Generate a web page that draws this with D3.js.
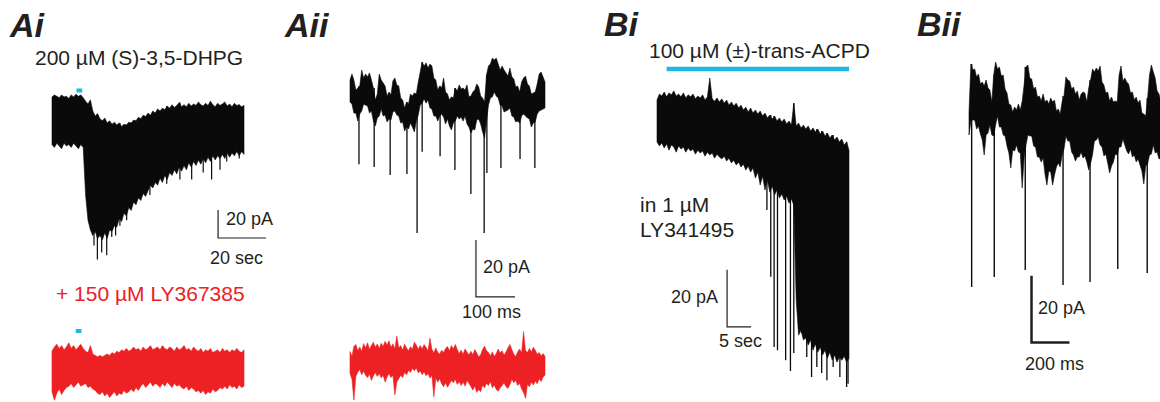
<!DOCTYPE html>
<html>
<head>
<meta charset="utf-8">
<script src="https://cdn.jsdelivr.net/npm/d3@7/dist/d3.min.js"></script>
<style>
  html, body { margin: 0; padding: 0; background: #fff; }
  svg { display: block; }
  text { font-family: "Liberation Sans", Arial, Helvetica, sans-serif; fill: #231f20; }
  .panel { font-weight: bold; font-style: italic; font-size: 34px; }
  .cond { font-size: 21px; }
  .bar { font-size: 18px; }
</style>
</head>
<body>
<svg id="fig" width="1160" height="402"></svg>
<script>
// ---------- Ai : (S)-3,5-DHPG, 1-s bins, current envelope in pA ----------
const aiHi = [0, 1.5, 0.5, -0.5, 1.5, 0, 0.5, -1, 1.5, 0, 2, 0.5, 1.5, -0.5,
  -3, -5, -2, -10, -13.5, -12, -15.5, -17, -15, -18.5, -17, -19.5, -18, -20, -18.5, -21,
  -19.5, -20, -18, -18.5, -16.5, -17, -14.5, -15.5, -13, -14,
  -11.5, -13, -10, -11.5, -8.5, -10, -8, -9, -6.5, -8, -5.5, -7.5, -6, -4, -7, -5.5, -7, -4.5,
  -6.5, -5, -6, -3.5, -5.5, -6.5, -4.5, -6, -3, -5.5, -7, -4.5, -6, -5, -3.5, -6.5, -5, -7,
  -4.5, -6, -5.5, -7, -6];
const aiLo = [-34, -36, -33, -35, -37, -33, -35, -34, -36, -33, -35, -37, -34, -36,
  -70, -88, -95, -99, -96, -101, -99, -102, -97, -101, -95, -96, -92, -93, -87, -89,
  -83, -85, -79, -81, -75, -77, -72, -74, -69, -71,
  -67, -63, -65, -61, -63, -58, -61, -56, -59, -54, -56, -52, -55, -50, -53, -49, -52, -47,
  -50, -46, -49, -45, -48, -44, -47, -43, -46, -42, -45, -42, -44, -41, -44, -40, -43, -40,
  -42, -39, -42, -39, -41];
// individual inward events [time s, peak pA]
const aiEvents = [[17.5, -106], [18.9, -116], [20.7, -111], [22.8, -113], [24.9, -100],
  [26.5, -99], [28.3, -92], [31.1, -88], [40.8, -70], [47.8, -62], [53.3, -59], [58.2, -59],
  [63, -54], [66.5, -59], [70, -52], [72.8, -46], [78, -44]];
// same cell in LY367385, 1-s bins
const aiRedHi = [-3, 0, 2, -1, 1, -2, 0, 3, -1, 1, -2, 0, 2,
  -1, -3, -4, 1, -5, -6, -7, -6,
  -7, -6, -5, -6, -4, -5, -3, -4, -2, -3, -1, -3, -2, 0, -2,
  -1, -3, 0, -2, -1, 1, -2, -1, 0, -2, 1, -1, -2, 0, -1, -3, 0, -2, -1, 1, -2, -1, -3, 0, -2,
  -3, -1, -4, -2, -3, -1, -4, -3, -2, -4, -1, -3, -2, -4, -2, -3, -1, -3, -4, -2];
const aiRedLo = [-32, -38, -33, -30, -34, -31, -29,
  -28, -26, -29, -27, -25, -28, -27, -26, -29, -28, -30,
  -31, -33, -34, -32, -35, -33, -36, -34, -32, -35, -33, -34, -31, -33, -32, -30, -32, -29, -31,
  -28, -26, -29, -27, -25, -28, -26, -27, -29, -26, -28, -25, -27, -29, -26, -28, -27, -29, -30,
  -28, -31, -29, -30, -32, -31,
  -33, -31, -34, -32, -33, -30, -32, -31, -29, -30, -28, -30, -27, -29, -28, -30, -27, -29, -28];
const aiPuff = [10.2, 12.6];           // agonist application, s

// ---------- Aii : expanded sweep, 5-ms bins (pA) ----------
const aiiHi = [7.0, 9.1, 7.0, 3.5, 4.2, 4.9, 10.5, 7.7, 9.1, 8.1,
  9.5, 7.0, 4.2, 0, 2.1, 9.1, 7.0, 6.0, 4.9, 1.4,
  2.8, 1.8, 6.7, 7.7, 5.3, 4.9, 0.7, 0, -2.8, -0.7,
  -1.4, 2.1, 1.4, 2.5, 2.1, 6.3, 9.8, 13.3, 11.9, 13.0,
  11.2, 12.6, 11.9, 7.7, 7.0, 3.5, 4.9, 4.2, 7.7, 2.8,
  2.1, 0, 1.1, 0.7, 4.2, 3.2, 5.3, 3.9, 4.2, 3.5,
  5.3, 1.1, 1.4, 2.8, 3.5, 5.6, 4.6, 1.4, 0.7, -0.7,
  8.8, 11.9, 12.6, 14.7, 14.0, 14.7, 12.6, 10.5, 11.9, 10.5,
  9.5, 8.4, 11.2, 8.1, 7.4, 4.6, 4.9, 2.8, 6.3, 7.7,
  8.4, 5.6, 4.9, 2.1, 2.5, 2.8, 5.6, 9.1, 9.8, 8.1, 6.3];
const aiiLo = [-0.7, -1.4, -4.6, -4.6, -7.4, -4.9, -3.9, -1.4, -1.8, -2.1,
  -4.6, -3.9, -7.4, -9.1, -6.3, -5.6, -3.2, -5.6, -5.3, -7.7,
  -6.7, -7.0, -4.2, -3.9, -5.3, -5.6, -8.1, -7.7, -10.9, -9.5,
  -10.2, -8.1, -9.5, -11.2, -7.4, -5.3, -1.8, -1.1, 0.4, -1.1,
  0, -2.8, -3.2, -5.6, -5.6, -7.4, -5.6, -4.9, -6.0, -8.4,
  -6.7, -9.1, -10.5, -8.1, -7.4, -5.6, -6.7, -6.0, -7.4, -5.6,
  -8.4, -9.5, -11.6, -10.2, -10.5, -7.0, -6.7, -8.4, -11.2, -13.3,
  -7.7, -1.8, 0.7, 1.1, 2.8, 1.4, 0.7, -1.8, -2.1, -4.2,
  -3.9, -3.5, -2.8, -5.6, -6.0, -7.7, -7.4, -8.1, -5.6, -4.9,
  -5.6, -6.3, -6.7, -9.5, -8.1, -7.7, -4.9, -3.9, -3.5, -3.2, -2.8];
// sEPSCs [time ms, peak pA]
const aiiEvents = [[23, -22.5], [62, -23.5], [103, -26.3], [146, -26.0], [172, -46.7],
  [185, -18.2], [231, -19.7], [269, -24.6], [310, -33.0], [344, -46.7], [351, -25.6],
  [387, -23.9], [436, -20.7], [474, -23.9]];
const aiiRedHi = [4.7, 3.0, 6.5, 7.2, 5.0, 6.3, 4.8, 7.5, 6.0, 7.8,
  5.5, 6.8, 8.0, 6.2, 7.4, 5.8, 7.6, 6.5, 8.3, 7.0,
  8.5, 6.2, 7.4, 5.6, 10.2, 6.0, 6.8, 5.2, 7.3, 6.0,
  5.0, 6.4, 5.5, 8.0, 7.0, 5.5, 6.8, 5.6, 7.2, 6.2,
  5.0, 9.4, 5.5, 4.3, 6.0, 4.5, 3.8, 5.2, 4.4, 5.8,
  6.5, 5.0, 6.8, 5.6, 7.2, 5.4, 4.0, 5.2, 3.8, 5.6,
  4.6, 3.5, 4.8, 3.6, 5.4, 4.2, 2.8, 3.6, 5.5, 6.6,
  5.0, 4.4, 3.2, 4.6, 3.0, 4.0, 5.6, 4.2, 5.0, 3.4,
  4.6, 6.0, 7.2, 5.4, 3.8, 3.0, 4.6, 5.6, 4.2, 11.7,
  5.0, 4.4, 5.8, 4.6, 6.2, 5.2, 3.8, 4.4, 3.2, 4.0, 3.0];
const aiiRedLo = [-2.9, -5.0, -12.3, -4.0, -2.5, -1.6, -3.4, -2.2, -3.6, -4.4,
  -3.2, -5.4, -3.8, -2.6, -4.0, -3.0, -4.5, -3.6, -6.0, -4.2,
  -3.0, -4.4, -3.6, -10.5, -6.0, -4.8, -3.6, -4.4, -2.6, -3.4,
  -1.8, -2.6, -1.2, -2.0, -1.0, -2.8, -2.0, -3.4, -2.4, -3.8,
  -3.0, -4.6, -3.6, -11.1, -4.6, -6.0, -4.8, -6.6, -7.6, -6.2,
  -7.8, -6.6, -5.4, -6.2, -5.0, -6.8, -5.8, -7.2, -6.0, -7.4,
  -5.4, -6.4, -7.6, -8.8, -7.4, -9.6, -8.6, -9.4, -7.0, -8.0,
  -6.4, -7.2, -5.8, -8.0, -7.0, -8.6, -9.2, -8.0, -7.2, -6.2,
  -7.6, -8.2, -6.8, -5.0, -6.2, -5.4, -7.2, -6.4, -8.4, -9.6,
  -11.7, -6.8, -7.6, -6.0, -7.0, -5.6, -6.6, -4.8, -5.8, -4.2, -3.6];

// ---------- Bi : (±)-trans-ACPD in LY341495, 0.5-s bins (pA) ----------
const biHi = [0, 2.1, 1.4, 2.8, 1.1, 2.5, 1.8, 3.2, 1.4, 2.1,
  1.1, 2.5, 0.7, 1.8, 1.1, 2.1, 0.4, 1.4, 0.7, 1.8,
  0, 1.1, 7.7, 0.4, -0.4, 0.7, -0.7, 0.4, -1.1, 0,
  -1.8, -0.7, -2.1, -1.1, -2.8, -1.8, -3.5, -2.5, -4.2, -2.8,
  -4.6, -3.5, -4.9, -3.9, -5.6, -4.6, -6.3, -5.3, -6.7, -5.6,
  -7.4, -6.3, -7.7, -6.7, -8.4, -7.4, -8.8, -1.1, -9.1, -8.1,
  -9.8, -8.8, -10.2, -9.1, -10.9, -9.8, -11.2, -10.2, -11.9, -10.9,
  -12.6, -11.6, -13.3, -12.3, -14.0, -13.0, -14.7, -13.7, -15.8, -14.7, -17.6];
const biLo = [-14.7, -16.1, -15.1, -16.8, -15.4, -17.6, -15.8, -16.5, -18.3, -16.1,
  -17.2, -16.5, -18.3, -16.8, -17.9, -17.2, -19.0, -17.6, -18.6, -17.9,
  -19.7, -18.3, -19.3, -18.6, -20.4, -19.0, -20.0, -20.7, -19.7, -21.4,
  -20.4, -22.1, -21.1, -22.8, -21.8, -23.5, -22.5, -24.6, -23.2, -25.3,
  -23.9, -27.4, -25.3, -29.8, -26.7, -31.6, -28.1, -32.3, -30.2, -33.3,
  -31.6, -34.4, -33.0, -35.1, -33.7, -36.2, -34.7, -36.9, -70.2, -82.5,
  -80.7, -84.2, -83.5, -86.0, -84.2, -87.8, -85.6, -88.5, -86.7, -89.5,
  -87.8, -90.6, -88.5, -91.3, -89.5, -92.0, -90.2, -91.3, -89.9, -92.0, -90.6];
const biEvents = [[22.9, -38.6], [23.7, -62], [24.4, -86.7], [25.1, -87.8], [26.8, -91.3],
  [27.8, -95.1], [28.5, -88.8], [30.1, -81.8], [31.2, -90.2], [32.2, -97.2], [33.3, -93.7],
  [34.3, -95.8], [35.4, -98.3], [36.7, -93.7], [38.1, -97.2], [39.5, -100.7], [39.8, -99.6]];
const biApp = [2, 40];                 // agonist application, s

// ---------- Bii : expanded sweep, 10-ms bins (pA) ----------
const biiHi = [-3.6, 10.8, 9.0, 9.3, 6.9, 7.8, 4.8, 5.4, 4.2, 6.0,
  3.6, 3.0, -0.6, 7.5, 11.4, 9.3, 9.9, 7.2, 7.5, 3.3,
  2.1, -1.2, -1.5, -3.6, -2.1, -3.0, -1.2, -3.0, -0.3, 4.5,
  9.9, 10.5, 6.6, 6.3, 3.3, 3.9, 0.9, 1.2, -0.3, 1.8,
  -0.6, 0, -1.2, 0.6, -0.6, 0, -3.3, -2.7, -4.2, -0.6,
  1.2, 6.9, 6.0, 5.7, 3.3, 3.9, 1.8, 2.7, 0, 1.8,
  2.4, 2.1, -0.6, 3.6, 6.0, 9.3, 8.4, 9.6, 8.7, 10.2,
  5.4, 4.5, 2.1, 2.4, -0.3, 0.9, -0.6, -0.3, -0.6, 7.5,
  10.2, 5.7, 6.6, 5.4, 4.8, 2.1, 2.4, 0, 0.9, -0.9,
  0, -3.9, -4.2, -4.8, 0.6, 7.5, 10.5, 8.4, 6.6, 2.7, 1.8, -0.6];
const biiLo = [-10.5, -6.3, -6.0, -6.0, -8.7, -7.8, -10.2, -12.0, -16.5, -10.5,
  -9.9, -7.5, -10.5, -10.8, -7.5, -4.8, -8.1, -8.1, -10.5, -10.8,
  -13.8, -15.9, -20.4, -15.0, -15.3, -13.5, -15.6, -15.9, -26.4, -17.4,
  -13.5, -10.5, -10.8, -10.8, -13.8, -14.1, -17.1, -17.1, -18.6, -17.4,
  -22.2, -25.5, -21.3, -21.6, -25.5, -22.5, -20.1, -18.9, -20.1, -16.5,
  -14.7, -10.8, -12.3, -12.3, -15.6, -16.5, -18.3, -17.1, -17.1, -15.6,
  -17.4, -16.8, -18.6, -21.0, -18.9, -16.5, -12.3, -12.0, -11.1, -13.5,
  -14.1, -16.8, -16.2, -18.9, -21.9, -19.8, -18.6, -16.2, -16.5, -14.1,
  -14.1, -11.7, -13.5, -15.3, -16.2, -14.7, -17.1, -16.5, -18.6, -17.7,
  -19.5, -21.3, -25.2, -19.8, -19.2, -16.5, -16.2, -13.5, -15.9, -15.6, -17.7, -17.4];
const biiEvents = [[14, -56.1], [133, -53.1], [296, -51.0], [495, -55.5], [637, -54.6],
  [783, -50.7], [938, -51.9]];

// ---------- drawing ----------
const ink = "#231f20", trace = "#0a0a0a", red = "#ed2024", cyan = "#1fb8e2";
const svg = d3.select("#fig");

// time and current scales for each recording
const xAi = d3.scaleLinear().domain([0, 80]).range([52, 244]);
const yAi = d3.scaleLinear().domain([0, -100]).range([97, 237]);
const yAiRed = d3.scaleLinear().domain([0, -100]).range([347, 487]);
const xAii = d3.scaleLinear().domain([0, 500]).range([350, 545]);
const yAii = d3.scaleLinear().domain([0, -20]).range([100, 157]);
const yAiiRed = d3.scaleLinear().domain([0, -20]).range([365, 422]);
const xBi = d3.scaleLinear().domain([0, 40]).range([657, 849]);
const yBi = d3.scaleLinear().domain([0, -20]).range([100, 157]);
const xBii = d3.scaleLinear().domain([0, 1000]).range([969, 1159]);
const yBii = d3.scaleLinear().domain([0, -30]).range([100, 200]);

// the trace is shown as its min/max envelope per bin, with discrete events as strokes
function drawTrace({ hi, lo, dt, x, y, color, events, eventWidth }) {
  const g = svg.append("g");
  const pts = hi.map((h, i) => ({ t: i * dt, hi: h, lo: lo[i] }));
  g.append("path").datum(pts)
    .attr("d", d3.area().x(d => x(d.t)).y0(d => y(d.lo)).y1(d => y(d.hi)))
    .attr("fill", color).attr("stroke", color)
    .attr("stroke-width", 0.6).attr("stroke-linejoin", "round");
  if (events) {
    g.selectAll("line").data(events).join("line")
      .attr("x1", d => x(d[0])).attr("x2", d => x(d[0]))
      .attr("y1", d => y(hi[Math.min(hi.length - 1, Math.round(d[0] / dt))]))
      .attr("y2", d => y(d[1]))
      .attr("stroke", color).attr("stroke-width", eventWidth || 1.2);
  }
}

function scaleBar({ x, y, t, v, dt, dv, width }) {
  svg.append("path")
    .attr("d", `M${x(t)},${y(v + dv)}V${y(v)}H${x(t + dt)}`)
    .attr("fill", "none").attr("stroke", ink)
    .attr("stroke-width", width || 1.2);
}

function label(txt, px, py, cls, color) {
  svg.append("text").attr("x", px).attr("y", py)
    .attr("class", cls).style("fill", color || ink).text(txt);
}

// panel letters
label("Ai", 10, 37, "panel");
label("Aii", 285, 37, "panel");
label("Bi", 604, 36, "panel");
label("Bii", 917, 36, "panel");

// Ai
label("200 µM (S)-3,5-DHPG", 35, 65, "cond");
svg.append("rect").attr("x", xAi(aiPuff[0])).attr("y", 88.5)
  .attr("width", xAi(aiPuff[1]) - xAi(aiPuff[0])).attr("height", 4).attr("fill", cyan);
drawTrace({ hi: aiHi, lo: aiLo, dt: 1, x: xAi, y: yAi, color: trace, events: aiEvents });
scaleBar({ x: xAi, y: yAi, t: 69.2, v: -100.7, dt: 20, dv: 20 });
label("20 pA", 226, 225, "bar");
label("20 sec", 210, 264, "bar");

label("+ 150 µM LY367385", 56, 301, "cond", red);
svg.append("rect").attr("x", xAi(aiPuff[0] - 0.3)).attr("y", 329)
  .attr("width", xAi(aiPuff[1]) - xAi(aiPuff[0])).attr("height", 4).attr("fill", cyan);
drawTrace({ hi: aiRedHi, lo: aiRedLo, dt: 1, x: xAi, y: yAiRed, color: red });

// Aii
drawTrace({ hi: aiiHi, lo: aiiLo, dt: 5, x: xAii, y: yAii, color: trace, events: aiiEvents, eventWidth: 1.3 });
scaleBar({ x: xAii, y: yAii, t: 323, v: -69.1, dt: 100, dv: 20 });
label("20 pA", 483, 273, "bar");
label("100 ms", 462, 318, "bar");
drawTrace({ hi: aiiRedHi, lo: aiiRedLo, dt: 5, x: xAii, y: yAiiRed, color: red });

// Bi
label("100 µM (±)-trans-ACPD", 649, 58, "cond");
svg.append("line").attr("x1", xBi(biApp[0])).attr("x2", xBi(biApp[1]))
  .attr("y1", 69).attr("y2", 69).attr("stroke", cyan).attr("stroke-width", 4.5);
drawTrace({ hi: biHi, lo: biLo, dt: 0.5, x: xBi, y: yBi, color: trace, events: biEvents, eventWidth: 1.3 });
label("in 1 µM", 640, 212, "cond");
label("LY341495", 640, 237, "cond");
scaleBar({ x: xBi, y: yBi, t: 14.6, v: -79.6, dt: 5, dv: 20 });
label("20 pA", 671, 303, "bar");
label("5 sec", 719, 347, "bar");

// Bii
drawTrace({ hi: biiHi, lo: biiLo, dt: 10, x: xBii, y: yBii, color: trace, events: biiEvents, eventWidth: 1.4 });
scaleBar({ x: xBii, y: yBii, t: 329, v: -72.75, dt: 200, dv: 20, width: 2.5 });
label("20 pA", 1038, 314, "bar");
label("200 ms", 1025, 370, "bar");
</script>
</body>
</html>
